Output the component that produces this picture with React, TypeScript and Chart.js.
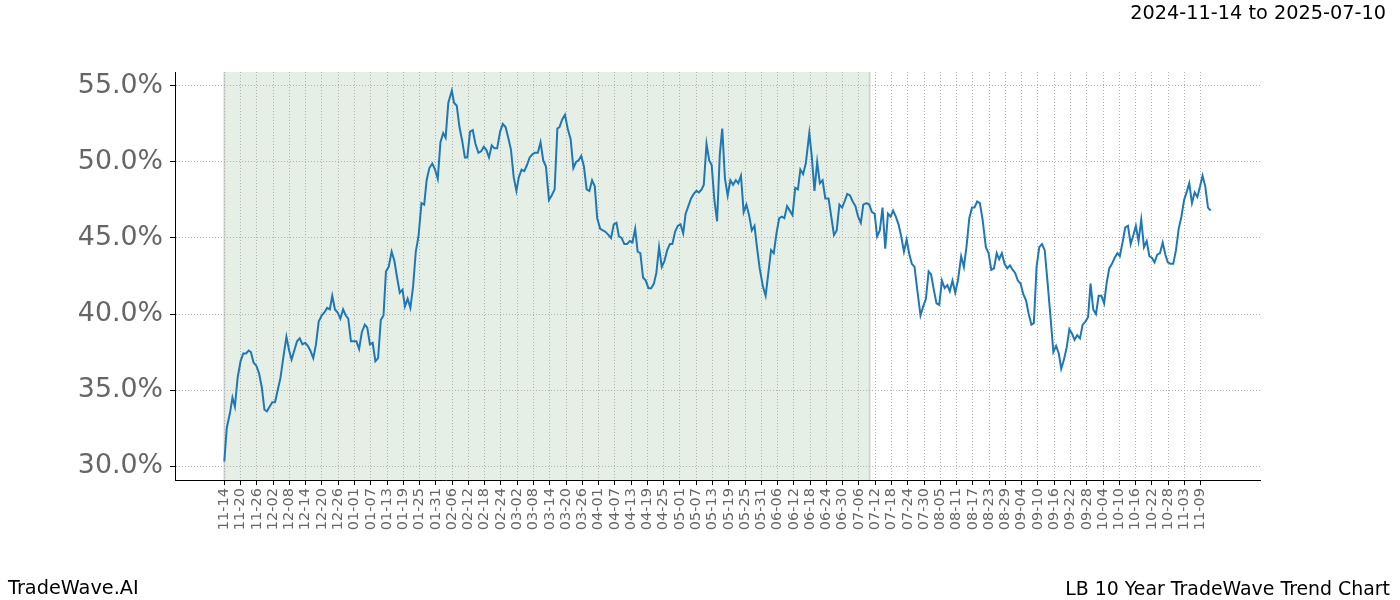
import React, { useEffect, useRef } from "react";
import { Chart, registerables } from "chart.js";

Chart.register(...registerables);

// Day offsets counted from 2024-11-14
const daysA = [
  0, 0.9, 2.1, 3, 3.9, 4.9, 6, 7, 8, 9,
  9.8, 10.8, 11.8, 12.8, 13.8, 14.8, 15.7, 16.7, 17.7, 18.7,
  19.7, 20.7, 21.8, 22.9, 23.9, 24.8, 25.8, 26.8, 27.8, 28.8,
  29.8, 30.8, 31.7, 32.8, 33.8, 34.8, 35.9, 36.9, 37.9, 38.9,
  39.8, 40.8, 41.8, 42.8, 43.8, 44.8, 45.7, 46.7, 47.7, 48.7,
  49.7, 50.7, 51.8, 52.7, 53.7, 54.7, 55.7, 56.7, 57.7, 58.7,
  59.6, 60.6, 61.7, 62.7, 63.7, 64.7, 65.7, 66.6, 67.6, 68.6,
  69.6, 70.6, 71.6, 72.7, 73.7, 74.6, 75.6, 76.7, 77.7, 78.7,
  79.7, 80.7, 81.6, 82.6, 83.9, 84.7, 85.7, 86.7, 87.7, 88.7,
  89.6, 90.6, 91.6, 92.6, 93.7, 94.7, 95.7, 96.6, 97.6, 98.6,
  99.6, 100.6, 101.7,
];
const valuesA = [
  30.3, 32.5, 33.5, 34.5, 33.9, 35.8, 36.9, 37.4, 37.4, 37.6,
  37.5, 36.8, 36.6, 36.1, 35.2, 33.7, 33.6, 33.9, 34.2, 34.2,
  35.0, 35.8, 37.2, 38.5, 37.6, 37.0, 37.6, 38.2, 38.4, 38.0,
  38.1, 37.9, 37.6, 37.1, 38.0, 39.5, 39.9, 40.1, 40.4, 40.3,
  41.2, 40.3, 40.1, 39.7, 40.3, 39.9, 39.7, 38.2, 38.2, 38.2,
  37.7, 38.8, 39.3, 39.1, 38.0, 38.1, 36.9, 37.1, 39.6, 39.9,
  42.8, 43.1, 44.1, 43.5, 42.4, 41.4, 41.6, 40.5, 41.0, 40.4,
  41.8, 44.1, 45.1, 47.3, 47.2, 48.8, 49.6, 49.9, 49.5, 48.9,
  51.3, 51.9, 51.6, 53.9, 54.7, 53.9, 53.7, 52.3, 51.4, 50.3,
  50.3, 52.0, 52.1, 51.2, 50.6, 50.7, 51.0, 50.8, 50.3, 51.1,
  50.9, 50.9, 52.0,
];

const daysB = [
  102.7, 103.7, 104.7, 105.7, 106.7, 107.7, 108.6, 109.6, 110.6, 111.6,
  112.6, 113.6, 114.5, 115.6, 116.6, 117.6, 118.6, 119.7, 120.7, 121.8,
  122.8, 123.6, 124.6, 125.6, 126.6, 127.7, 128.7, 129.7, 130.6, 131.6,
  132.6, 133.6, 134.6, 135.6, 136.6, 137.5, 138.6, 139.6, 140.6, 141.6,
  142.6, 143.6, 144.6, 145.5, 146.5, 147.5, 148.5, 149.5, 150.5, 151.5,
  152.4, 153.4, 154.4, 155.4, 156.4, 157.4, 158.4, 159.3, 160.3, 161.3,
  162.3, 163.3, 164.3, 165.2, 166.2, 167.2, 168.2, 169.2, 170.1, 171.1,
  172.1, 173.1, 174.1, 175.0, 176.0, 176.8, 177.8, 178.8, 179.7, 180.7,
  181.7, 182.7, 183.6, 184.6, 185.6, 186.6, 187.6, 188.6, 189.5, 190.5,
  191.5, 192.5, 193.5, 194.5, 195.5, 196.4, 197.4, 198.6, 199.6, 200.6,
  201.6, 202.6, 203.6, 204.6, 205.6, 206.5, 207.5, 208.5, 209.5, 210.5,
  211.5, 212.4, 213.4, 214.4, 215.7, 216.6, 217.6, 218.6, 219.6, 220.6,
  221.6, 222.8, 223.8, 224.8, 225.8, 226.8, 227.8, 228.7, 229.7, 230.7,
  231.7, 232.7, 233.7,
];
const valuesB = [
  52.5, 52.3, 51.6, 50.8, 49.0, 48.1, 49.0, 49.5, 49.4, 49.8,
  50.3, 50.5, 50.6, 50.6, 51.3, 50.1, 49.7, 47.5, 47.8, 48.2,
  52.2, 52.3, 52.8, 53.1, 52.2, 51.5, 49.6, 50.0, 50.1, 50.4,
  49.7, 48.2, 48.1, 48.8, 48.4, 46.3, 45.6, 45.5, 45.4, 45.2,
  45.0, 45.9, 46.0, 45.1, 45.0, 44.6, 44.6, 44.8, 44.7, 45.6,
  44.1, 44.0, 42.4, 42.2, 41.7, 41.7, 42.0, 42.7, 44.4, 43.1,
  43.5, 44.2, 44.6, 44.6, 45.4, 45.8, 45.9, 45.3, 46.6, 47.1,
  47.6, 47.9, 48.1, 48.0, 48.2, 48.5, 51.2, 50.1, 49.8, 47.5,
  46.1, 50.5, 52.2, 48.9, 47.8, 48.8, 48.5, 48.8, 48.6, 49.1,
  46.7, 47.2, 46.5, 45.5, 45.8, 44.4, 43.0, 41.8, 41.2, 42.7,
  44.2, 44.0, 45.3, 46.3, 46.4, 46.3, 47.1, 46.8, 46.5, 48.3,
  48.2, 49.5, 49.2, 49.9, 51.9, 50.4, 48.1, 50.0, 48.6, 48.8,
  47.6, 47.6, 46.4, 45.2, 45.5, 47.2, 47.0, 47.4, 47.9, 47.8,
  47.4, 47.1, 46.4,
];

const daysC = [
  234.7, 235.6, 236.8, 237.8, 238.8, 239.8, 240.7, 241.7, 242.7, 243.7,
  244.7, 245.7, 246.6, 247.6, 248.6, 249.6, 250.6, 251.6, 252.5, 253.5,
  254.5, 255.5, 256.7, 257.7, 258.7, 259.7, 260.6, 261.6, 262.6, 263.6,
  264.6, 265.6, 266.6, 267.5, 268.5, 269.5, 270.5, 271.7, 272.7, 273.7,
  274.7, 275.7, 276.6, 277.6, 278.6, 279.6, 280.8, 281.8, 282.8, 283.8,
  284.8, 285.7, 286.7, 287.7, 288.7, 289.7, 290.7, 291.6, 292.6, 293.6,
  294.6, 295.6, 296.6, 297.6, 298.5, 299.5, 300.5, 301.5, 302.5, 303.5,
  304.5, 305.7, 306.7, 307.7, 308.6, 309.6, 310.6, 311.6, 312.6, 313.5,
  314.5, 315.5, 316.5, 317.5, 318.5, 319.4, 320.4, 321.4, 322.4, 323.4,
  324.4, 325.3, 326.3, 327.3, 328.3, 329.3, 330.2, 331.2, 332.2, 333.2,
  334.2, 335.2, 336.1, 337.1, 338.1, 339.1, 340.1, 341.1, 342.0, 343.0,
  344.0, 345.0, 346.0, 347.0, 347.9, 348.9, 349.9, 350.9, 351.9, 352.9,
  353.9, 354.8, 355.8, 356.8, 357.8, 358.8, 359.8, 360.7, 361.7, 362.7,
  363.7,
];
const valuesC = [
  46.0, 47.2, 47.3, 47.2, 46.7, 46.6, 45.1, 45.5, 47.0, 44.3,
  46.6, 46.4, 46.8, 46.4, 45.9, 45.1, 44.1, 44.9, 44.0, 43.3,
  43.1, 41.6, 39.9, 40.5, 41.0, 42.8, 42.6, 41.6, 40.7, 40.6,
  42.2, 41.7, 41.9, 41.5, 42.2, 41.4, 42.2, 43.8, 43.1, 44.5,
  46.3, 47.0, 47.0, 47.4, 47.3, 46.2, 44.4, 44.0, 42.9, 43.0,
  44.0, 43.6, 44.0, 43.3, 43.0, 43.2, 42.9, 42.7, 42.2, 42.0,
  41.3, 40.9, 40.0, 39.3, 39.4, 43.1, 44.4, 44.6, 44.2, 42.2,
  40.1, 37.5, 37.9, 37.4, 36.4, 37.0, 37.8, 39.0, 38.7, 38.3,
  38.6, 38.4, 39.3, 39.5, 39.8, 42.0, 40.3, 40.0, 41.2, 41.2,
  40.7, 42.0, 43.0, 43.3, 43.7, 44.0, 43.8, 44.7, 45.7, 45.8,
  44.6, 45.2, 45.8, 44.8, 46.2, 44.4, 44.8, 43.8, 43.7, 43.4,
  43.9, 44.0, 44.7, 43.9, 43.4, 43.3, 43.3, 44.2, 45.6, 46.4,
  47.5, 48.0, 48.6, 47.3, 48.0, 47.7, 48.4, 49.1, 48.4, 47.0,
  46.8,
];

const xTickLabels = [
  "11-14", "11-20", "11-26", "12-02", "12-08", "12-14", "12-20", "12-26",
  "01-01", "01-07", "01-13", "01-19", "01-25", "01-31", "02-06", "02-12",
  "02-18", "02-24", "03-02", "03-08", "03-14", "03-20", "03-26", "04-01",
  "04-07", "04-13", "04-19", "04-25", "05-01", "05-07", "05-13", "05-19",
  "05-25", "05-31", "06-06", "06-12", "06-18", "06-24", "06-30", "07-06",
  "07-12", "07-18", "07-24", "07-30", "08-05", "08-11", "08-17", "08-23",
  "08-29", "09-04", "09-10", "09-16", "09-22", "09-28", "10-04", "10-10",
  "10-16", "10-22", "10-28", "11-03", "11-09",
];
const xTickStepDays = 6;
const yTickValues = [30, 35, 40, 45, 50, 55];

// Shaded window: 2024-11-14 (day 0) to 2025-07-10 (day 238)
const shadeStartDay = 0;
const shadeEndDay = 238;

const dayOffsets = [...daysA, ...daysB, ...daysC];
const trendValues = [...valuesA, ...valuesB, ...valuesC];

const shadePlugin = {
  id: "shadeWindow",
  beforeDraw(chart: any) {
    const { ctx, chartArea, scales } = chart;
    const x = scales.x;
    const x0 = x.getPixelForValue(shadeStartDay);
    const x1 = x.getPixelForValue(shadeEndDay);
    ctx.save();
    ctx.fillStyle = "#e5efe5";
    ctx.fillRect(x0, chartArea.top, x1 - x0, chartArea.bottom - chartArea.top);
    ctx.strokeStyle = "rgba(0,0,0,0.12)";
    ctx.lineWidth = 2;
    ctx.beginPath();
    ctx.moveTo(x0, chartArea.top);
    ctx.lineTo(x0, chartArea.bottom);
    ctx.moveTo(x1, chartArea.top);
    ctx.lineTo(x1, chartArea.bottom);
    ctx.stroke();
    ctx.restore();
  },
};

export default function App() {
  const canvasRef = useRef<HTMLCanvasElement | null>(null);

  useEffect(() => {
    if (!canvasRef.current) return;
    const xData = Math.max(...dayOffsets) - Math.min(...dayOffsets);
    const xMin = Math.min(...dayOffsets) - 0.05 * xData;
    const xMax = Math.max(...dayOffsets) + 0.05 * xData;
    const yRange = Math.max(...trendValues) - Math.min(...trendValues);
    const yMin = Math.min(...trendValues) - 0.05 * yRange;
    const yMax = Math.max(...trendValues) + 0.05 * yRange;

    const chart = new Chart(canvasRef.current, {
      type: "line",
      data: {
        datasets: [
          {
            data: dayOffsets.map((d, i) => ({ x: d, y: trendValues[i] })),
            borderColor: "#1f77b4",
            borderWidth: 2,
            pointRadius: 0,
            fill: false,
            tension: 0,
          },
        ],
      },
      options: {
        responsive: false,
        animation: false,
        devicePixelRatio: 1,
        layout: { padding: { top: 72, right: 140, left: 0, bottom: 0 } },
        plugins: { legend: { display: false }, tooltip: { enabled: false } },
        scales: {
          x: {
            type: "linear",
            min: xMin,
            max: xMax,
            afterBuildTicks: (s: any) => {
              s.ticks = xTickLabels.map((_, i) => ({ value: i * xTickStepDays }));
            },
            afterFit: (s: any) => {
              s.height = 120;
            },
            ticks: {
              autoSkip: false,
              minRotation: 90,
              maxRotation: 90,
              padding: 3,
              color: "#666666",
              font: { family: "DejaVu Sans", size: 14.5 },
              callback: (v: any) => xTickLabels[Math.round(Number(v) / xTickStepDays)],
            },
            grid: { color: "#b0b0b0", lineWidth: 1, tickLength: 5, tickColor: "#000", drawTicks: true },
            border: { display: true, color: "#000", width: 1, dash: [1, 2] },
          },
          y: {
            type: "linear",
            min: yMin,
            max: yMax,
            afterBuildTicks: (s: any) => {
              s.ticks = yTickValues.map((v) => ({ value: v }));
            },
            afterFit: (s: any) => {
              s.width = 175;
            },
            ticks: {
              padding: 7,
              color: "#666666",
              font: { family: "DejaVu Sans", size: 26.8 },
              callback: (v: any) => Number(v).toFixed(1) + "%",
            },
            grid: { color: "#b0b0b0", lineWidth: 1, tickLength: 5, tickColor: "#000", drawTicks: true },
            border: { display: true, color: "#000", width: 1, dash: [1, 2] },
          },
        },
      },
      plugins: [shadePlugin],
    });
    return () => chart.destroy();
  }, []);

  const textStyle: React.CSSProperties = {
    position: "absolute",
    fontFamily: "'DejaVu Sans', sans-serif",
    fontSize: 19.3,
    color: "#000",
    whiteSpace: "nowrap",
    lineHeight: "24px",
  };

  return (
    <div style={{ position: "absolute", left: 0, top: 0, width: 1400, height: 600, background: "#fff" }}>
      <canvas ref={canvasRef} width={1400} height={600} style={{ display: "block" }} />
      <div style={{ ...textStyle, right: 14, top: 1 }}>2024-11-14 to 2025-07-10</div>
      <div style={{ ...textStyle, left: 8, top: 576 }}>TradeWave.AI</div>
      <div style={{ ...textStyle, fontSize: 18.9, right: 10, top: 576 }}>LB 10 Year TradeWave Trend Chart</div>
    </div>
  );
}
